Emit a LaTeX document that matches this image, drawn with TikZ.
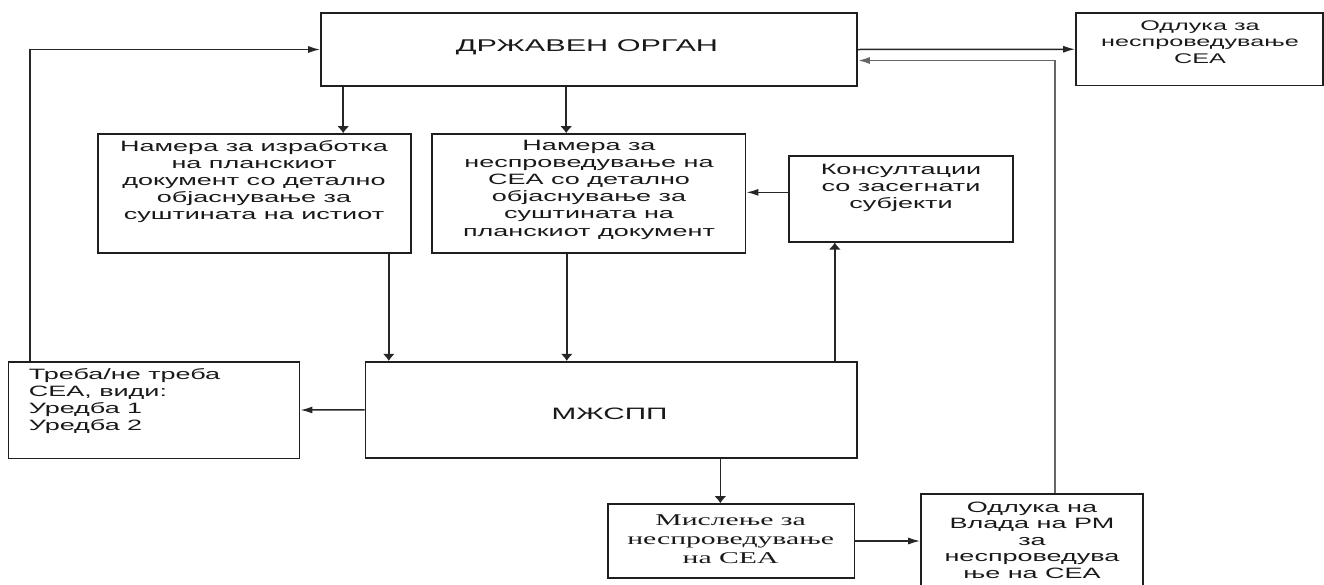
\documentclass[tikz,border=0pt]{standalone}
\usepackage{fontspec}
\setmainfont[FakeStretch=1.8]{Liberation Sans}
\newfontfamily\serifx[FakeStretch=1.8]{Liberation Serif}
\usetikzlibrary{arrows.meta}
\begin{document}
\begin{tikzpicture}[x=1pt,y=-1pt,
  box/.style={draw=black!88, line width=1.6pt, rectangle, inner sep=0pt},
  txt/.style={align=center, inner sep=0pt, text=black!90},
  harr/.style={draw=black!85, line width=1.5pt, -{Latex[length=12pt,width=7pt]}},
  varr/.style={draw=black!85, line width=1.5pt, -{Latex[length=7pt,width=12pt]}},
  garr/.style={draw=black!60, line width=1.8pt, -{Latex[length=12pt,width=7pt]}}
  ]
\useasboundingbox (0,0) rectangle (1324,584);
\clip (0,0) rectangle (1324,584);

% boxes
\node[box, minimum width=536pt, minimum height=73pt] (org) at (589,49.5) {};
\node[box, minimum width=247pt, minimum height=72.5pt] (odl) at (1199.5,49.25) {};
\node[box, minimum width=313pt, minimum height=119pt] (nam1) at (254.5,193.5) {};
\node[box, minimum width=313.6pt, minimum height=119pt] (nam2) at (588.8,193.5) {};
\node[box, minimum width=224pt, minimum height=85.7pt] (kon) at (901,198.85) {};
\node[box, minimum width=291.3pt, minimum height=96.6pt] (treba) at (154,410) {};
\node[box, minimum width=491.7pt, minimum height=96.3pt] (mz) at (611.15,409.85) {};
\node[box, minimum width=246.6pt, minimum height=74pt] (misl) at (731.3,541) {};
\node[box, minimum width=222pt, minimum height=94pt] (vlada) at (1032,541) {};

% texts
\node[txt, font=\fontsize{17}{20}\selectfont] (torg) at (587,47) {ДРЖАВЕН ОРГАН};
\node[txt, font=\fontsize{14}{16.7}\selectfont] (todl) at (1200,42) {Одлука за\\неспроведување\\СЕА};
\node[txt, font=\fontsize{15}{17.2}\selectfont] (tnam1) at (254,181.5) {Намера за изработка\\на планскиот\\документ со детално\\објаснување за\\суштината на истиот};
\node[txt, font=\fontsize{15}{17.2}\selectfont] (tnam2) at (589,189.5) {Намера за\\неспроведување на\\СЕА со детално\\објаснување за\\суштината на\\планскиот документ};
\node[txt, font=\fontsize{15}{17.2}\selectfont] (tkon) at (901,188) {Консултации\\со засегнати\\субјекти};
\node[txt, align=left, anchor=west, font=\fontsize{15}{17.3}\selectfont] (ttreba) at (28.6,401) {Треба/не треба\\СЕА, види:\\Уредба 1\\Уредба 2};
\node[txt, font=\fontsize{16.5}{19}\selectfont] (tmz) at (609.5,414) {МЖСПП};
\node[txt, font=\serifx\fontsize{16.5}{19}\selectfont] (tmisl) at (730.6,539) {Мислење за\\неспроведување\\на СЕА};
\node[txt, font=\fontsize{15}{16.5}\selectfont] (tvlada) at (1032,540) {Одлука на\\Влада на РМ\\за\\неспроведува\\ње на СЕА};

% connectors
\draw[harr] ([xshift=22.3pt]treba.north west) |- (org.west);
\draw[varr] ([xshift=23pt]org.south west) -- ([xshift=23pt]org.south west |- nam1.north);
\draw[varr] ([xshift=246pt]org.south west) -- ([xshift=246pt]org.south west |- nam2.north);
\draw[varr] ([xshift=-23pt]nam1.south east) -- ([xshift=-23pt]nam1.south east |- mz.north);
\draw[varr] ([xshift=-22pt]nam2.south) -- ([xshift=-22pt]nam2.south |- mz.north);
\draw[harr] ([yshift=6.5pt]kon.west) -- ([yshift=6.5pt]kon.west -| nam2.east);
\draw[varr] ([xshift=-23pt]mz.north east) -- ([xshift=-23pt]mz.north east |- kon.south);
\draw[harr] (mz.west) -- (treba.east);
\draw[varr] ([xshift=-11pt]misl.north |- mz.south) -- ([xshift=-11pt]misl.north);
\draw[harr] (misl.east) -- (vlada.west);
\draw[harr] (org.east) -- (odl.west);
\draw[garr] ([xshift=23pt]vlada.north) |- ([yshift=-11pt]org.east);
\end{tikzpicture}
\end{document}
